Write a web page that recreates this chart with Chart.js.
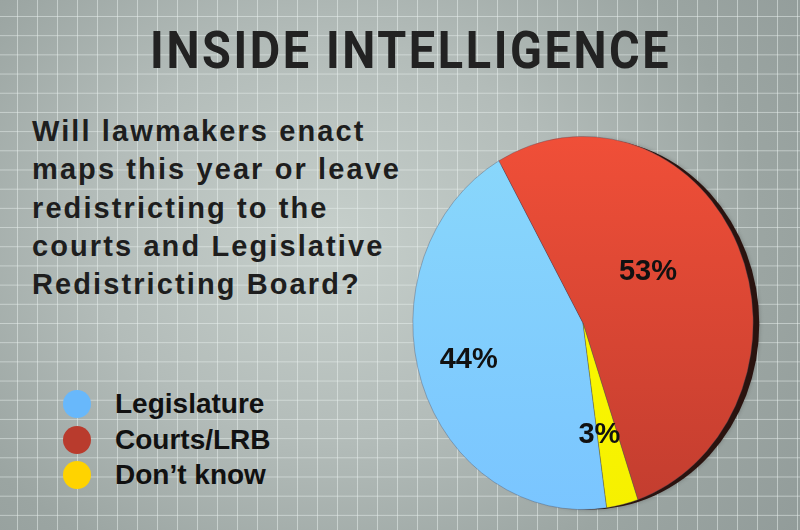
<!DOCTYPE html>
<html>
<head>
<meta charset="utf-8">
<script src="https://cdn.jsdelivr.net/npm/chart.js@4.4.1/dist/chart.umd.min.js"></script>
<style>
  html, body { margin: 0; padding: 0; }
  body {
    width: 800px; height: 530px; overflow: hidden; position: relative;
    background-color: #aab3b0;
    background-image:
      linear-gradient(to right, rgba(235,242,240,0.5) 1px, transparent 1px),
      linear-gradient(to bottom, rgba(235,242,240,0.5) 1px, transparent 1px),
      radial-gradient(ellipse 600px 500px at 330px 240px, #c6cfcb 0%, #b3bcb9 40%, #9ba5a2 72%, #919b99 100%);
    background-size: 20px 19.2px, 20px 19.2px, 100% 100%;
    background-position: 17px 16px, 17px 16px, 0 0;
  }
  #title {
    position: absolute; left: 0; top: 25px; width: 821px; text-align: center;
    font-family: Roboto, "Liberation Sans", sans-serif; font-weight: 700;
    font-size: 52px; line-height: 52px; letter-spacing: 2.9px; color: #222;
    white-space: nowrap; transform: scaleX(0.9); transform-origin: 412px 0;
  }
  #question {
    position: absolute; left: 32px; top: 112px;
    font-family: "Liberation Sans", Arial, sans-serif; font-weight: 700;
    font-size: 29px; line-height: 38.3px; letter-spacing: 2.1px; color: #1e1e1e;
    white-space: nowrap;
  }
  #legend { position: absolute; left: 63px; top: 386px; }
  .item { display: flex; align-items: center; height: 35.7px; }
  .dot { width: 28px; height: 28px; border-radius: 50%; margin-right: 24px; }
  .lbl { font-family: "Liberation Sans", Arial, sans-serif; font-weight: 700; font-size: 28px; color: #111; white-space: nowrap; }
  #wrap { position: absolute; left: 0; top: 0; width: 800px; height: 530px; }
</style>
</head>
<body>
<div id="title"></div>
<div id="question"></div>
<div id="legend"></div>
<div id="wrap"><canvas id="c"></canvas></div>
<script>
// ---- data ----
const titleText = "INSIDE INTELLIGENCE";
const questionLines = [
  "Will lawmakers enact",
  "maps this year or leave",
  "redistricting to the",
  "courts and Legislative",
  "Redistricting Board?"
];
const categories = ["Legislature", "Courts/LRB", "Don\u2019t know"];
const values = [44, 53, 3];
// ---- styles ----
const legendColors = ["#68b8fb", "#b93b2d", "#ffd300"];
const sliceTop = ["#8ad8fb", "#f04f38", "#ffff00"];
const sliceBottom = ["#7ac5ff", "#c23d2f", "#f6f000"];
const labelFrac = [0.70, 0.47, 0.61];
const labelAngleFrac = [0.515, 0.44, 0.9];
const squeeze = 0.912;

document.getElementById('title').textContent = titleText;
document.getElementById('question').innerHTML = questionLines.map(l => '<div>' + l + '</div>').join('');
document.getElementById('legend').innerHTML = categories.map((c, i) =>
  '<div class="item"><div class="dot" style="background:' + legendColors[i] + '"></div><div class="lbl">' + c + '</div></div>'
).join('');

const ellipsePlugin = {
  id: 'ellipse',
  beforeDatasetsDraw(chart) {
    const ctx = chart.ctx;
    const arc = chart.getDatasetMeta(0).data[0];
    if (!arc) return;
    const {x, y, outerRadius} = arc.getProps(['x', 'y', 'outerRadius'], true);
    ctx.save();
    ctx.translate(x, y);
    ctx.scale(squeeze, 1);
    ctx.translate(-x, -y);
    // pie side / shadow
    ctx.save();
    ctx.fillStyle = '#2a130f';
    ctx.shadowColor = 'rgba(0,0,0,0.25)';
    ctx.shadowBlur = 4;
    ctx.beginPath();
    ctx.arc(x + 7 / squeeze, y + 1, outerRadius - 1, 0, Math.PI * 2);
    ctx.fill();
    ctx.restore();
  },
  afterDatasetsDraw(chart) {
    const ctx = chart.ctx;
    ctx.restore();
    const meta = chart.getDatasetMeta(0);
    ctx.save();
    ctx.font = 'bold 29px "Liberation Sans", Arial, sans-serif';
    ctx.fillStyle = '#111';
    ctx.textAlign = 'center';
    ctx.textBaseline = 'middle';
    meta.data.forEach((a, i) => {
      const p = a.getProps(['x', 'y', 'startAngle', 'endAngle', 'outerRadius'], true);
      const ang = p.startAngle + (p.endAngle - p.startAngle) * labelAngleFrac[i];
      const r = p.outerRadius * labelFrac[i];
      ctx.fillText(values[i] + '%', p.x + Math.cos(ang) * r * squeeze, p.y + Math.sin(ang) * r);
    });
    ctx.restore();
  }
};

function grad(i) {
  return (c) => {
    const area = c.chart.chartArea;
    if (!area) return sliceTop[i];
    const g = c.chart.ctx.createLinearGradient(0, area.top, 0, area.bottom);
    g.addColorStop(0, sliceTop[i]);
    g.addColorStop(1, sliceBottom[i]);
    return g;
  };
}

new Chart(document.getElementById('c'), {
  type: 'pie',
  data: {
    labels: categories,
    datasets: [{
      data: values,
      backgroundColor: (c) => grad(c.dataIndex)(c),
      borderColor: 'rgba(70,70,90,0.45)',
      borderWidth: 0.8,
      hoverOffset: 0
    }]
  },
  options: {
    responsive: true,
    maintainAspectRatio: false,
    animation: false,
    rotation: 172,
    layout: { padding: { left: 396, right: 30, top: 136, bottom: 20 } },
    plugins: { legend: { display: false }, tooltip: { enabled: false } },
    events: []
  },
  plugins: [ellipsePlugin]
});
</script>
</body>
</html>
